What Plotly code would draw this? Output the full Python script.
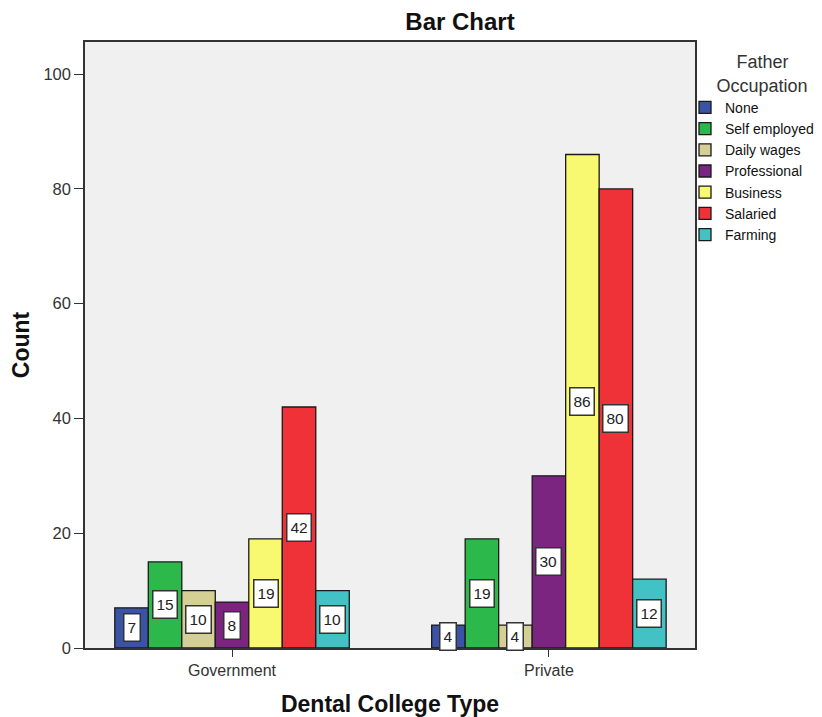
import plotly.graph_objects as go

categories = ["Government", "Private"]
occupations = ["None", "Self employed", "Daily wages", "Professional", "Business", "Salaried", "Farming"]
counts = {
    "None": [7, 4],
    "Self employed": [15, 19],
    "Daily wages": [10, 4],
    "Professional": [8, 30],
    "Business": [19, 86],
    "Salaried": [42, 80],
    "Farming": [10, 12],
}
colors = ["#3a53a4", "#2db84b", "#d4cf94", "#7b2580", "#f9f871", "#ee3237", "#42c2c4"]
y_ticks = [0, 20, 40, 60, 80, 100]

bargap = 0.26
n = len(occupations)
bar_w = (1 - bargap) / n

fig = go.Figure()
xs = list(range(len(categories)))
annotations = []
for i, occ in enumerate(occupations):
    fig.add_trace(go.Bar(
        name=occ, x=xs, y=counts[occ],
        marker=dict(color=colors[i], line=dict(color="#1a1a1a", width=1.3)),
    ))
    off = -(1 - bargap) / 2 + (i + 0.5) * bar_w
    for xi, v in zip(xs, counts[occ]):
        annotations.append(dict(
            x=xi + off, y=v / 2, text=str(v), showarrow=False,
            font=dict(family="Liberation Sans, Arial", size=15.5, color="#222"),
            bgcolor="white", bordercolor="#333", borderwidth=1.5, borderpad=3,
            height=20,
            xref="x", yref="y",
        ))

# page body adds an 8px offset; figure coordinates are screen minus 8
OFF = 8
W, H = 822 - OFF, 717 - OFF
L, R, T, B = 85 - OFF, 695 - OFF, 42 - OFF, 648 - OFF

NB = "&nbsp;"
fig.update_layout(
    width=W, height=H,
    barmode="group", bargap=bargap, bargroupgap=0,
    paper_bgcolor="white", plot_bgcolor="#f0f0f0",
    margin=dict(l=L, r=W - R, t=T, b=H - B, autoexpand=False),
    font=dict(family="Liberation Sans, Arial", size=15, color="#333"),
    title=dict(text="<b>Bar Chart</b>", x=(460 - OFF) / W, xanchor="center", xref="container",
               y=1 - (22 - OFF) / H, yanchor="middle", yref="container",
               font=dict(size=24, color="#111")),
    xaxis=dict(
        range=[-0.464, 1.461], tickvals=xs, ticktext=categories,
        ticks="outside", ticklen=7, tickcolor="#333", tickwidth=1.3,
        showgrid=False, zeroline=False,
        showline=True, linecolor="#333", linewidth=1.5, mirror=True,
        title=dict(text="<b>Dental College Type</b>", font=dict(size=23, color="#111"), standoff=20),
        tickfont=dict(size=16, color="#333"),
    ),
    yaxis=dict(
        range=[0, 105.6], tickvals=y_ticks,
        ticks="outside", ticklen=9, tickcolor="#333", tickwidth=1.3,
        showgrid=False, zeroline=False,
        showline=True, linecolor="#333", linewidth=1.5, mirror=True,
        title=dict(text="<b>Count</b>", font=dict(size=23, color="#111"), standoff=10),
        tickfont=dict(size=16.5, color="#333"),
    ),
    legend=dict(
        x=(685 - 85) / (695 - 85), xanchor="left", y=1 - (45 - 42) / (648 - 42), yanchor="top",
        title=dict(text=NB * 8 + "Father<br>" + NB * 4 + "Occupation", side="top center",
                   font=dict(size=18, color="#333")),
        font=dict(size=14, color="#111"),
        itemwidth=30, tracegroupgap=0, bgcolor="rgba(0,0,0,0)",
    ),
    annotations=annotations,
)

fig.write_html("out.html")
